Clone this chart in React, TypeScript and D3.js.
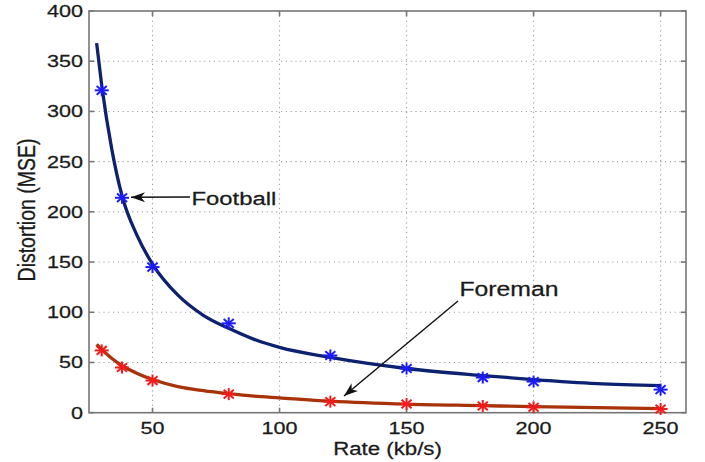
import React, { useEffect, useRef } from "react";
import * as d3 from "d3";

// measured points (markers)
const rates = [30, 38, 50, 80, 120, 150, 180, 200, 250];
const footballPoints = [321, 214, 145, 89, 57, 44, 35, 31, 23];
const foremanPoints = [62, 45, 32, 18.5, 11, 8.7, 6.7, 5.4, 3.7];

// fitted curves
const fitRates = [28, 30, 34, 38, 44, 50, 60, 70, 80, 90, 100, 120, 150, 180, 200, 225, 250];
const footballFit = [368, 326, 262, 216, 176, 148, 117, 97, 84, 73, 65, 55, 44, 37, 33, 29, 27];
const foremanFit = [68, 63, 54, 47, 39, 33, 26, 22, 19, 16.5, 14.8, 11.5, 8.5, 7, 6, 5, 4];

const xTicks = [50, 100, 150, 200, 250];
const yTicks = [0, 50, 100, 150, 200, 250, 300, 350, 400];

const FONT = "'Liberation Sans', Arial, Helvetica, sans-serif";
const SX = 1.27; // the original picture is stretched sideways

export default function App() {
    const ref = useRef<SVGSVGElement>(null);

    useEffect(() => {
        const svg = d3.select(ref.current);
        svg.selectAll("*").remove();

        const left = 89, right = 686, top = 11, bottom = 412.7;

        const x = d3.scaleLinear().domain([25, 260]).range([left, right]);
        const y = d3.scaleLinear().domain([0, 400]).range([bottom, top]);

        const defs = svg.append("defs");
        defs.append("marker")
            .attr("id", "head")
            .attr("viewBox", "-15 -6 16 12")
            .attr("refX", 0)
            .attr("refY", 0)
            .attr("markerWidth", 16)
            .attr("markerHeight", 12)
            .attr("markerUnits", "userSpaceOnUse")
            .attr("orient", "auto")
            .append("path")
            .attr("d", "M0,0 L-14,-5 L-10,0 L-14,5 Z")
            .attr("fill", "#111");

        // grid
        const grid = svg.append("g")
            .attr("stroke", "#a0a0a0")
            .attr("stroke-width", 1.1)
            .attr("stroke-dasharray", "1.2,3.6");
        grid.selectAll("line.v").data(xTicks).enter().append("line")
            .attr("x1", d => x(d)).attr("x2", d => x(d))
            .attr("y1", top).attr("y2", bottom);
        grid.selectAll("line.h").data(yTicks.slice(1, -1)).enter().append("line")
            .attr("x1", left).attr("x2", right)
            .attr("y1", d => y(d)).attr("y2", d => y(d));

        // box + inner ticks
        const axisColor = "#767676";
        svg.append("rect")
            .attr("x", left).attr("y", top)
            .attr("width", right - left).attr("height", bottom - top)
            .attr("fill", "none").attr("stroke", axisColor).attr("stroke-width", 1.6);
        const ticks = svg.append("g").attr("stroke", axisColor).attr("stroke-width", 1.6);
        xTicks.forEach(t => {
            ticks.append("line").attr("x1", x(t)).attr("x2", x(t)).attr("y1", bottom).attr("y2", bottom - 5);
            ticks.append("line").attr("x1", x(t)).attr("x2", x(t)).attr("y1", top).attr("y2", top + 5);
        });
        yTicks.forEach(t => {
            ticks.append("line").attr("x1", left).attr("x2", left + 5).attr("y1", y(t)).attr("y2", y(t));
            ticks.append("line").attr("x1", right).attr("x2", right - 5).attr("y1", y(t)).attr("y2", y(t));
        });

        // tick labels
        const txt = (g: any, s: string, tx: number, ty: number, size: number, anchor: string) =>
            g.append("text")
                .attr("transform", `translate(${tx},${ty}) scale(${SX},1)`)
                .attr("text-anchor", anchor)
                .attr("font-family", FONT)
                .attr("font-size", size)
                .attr("fill", "#1a1a1a")
                .attr("stroke", "#1a1a1a")
                .attr("stroke-width", 0.25)
                .text(s);

        yTicks.forEach(t => txt(svg, String(t), 83, y(t) + 6, 17, "end"));
        xTicks.forEach(t => txt(svg, String(t), x(t), 434, 17, "middle"));
        txt(svg, "Rate (kb/s)", (left + right) / 2, 455, 17.5, "middle");

        svg.append("text")
            .attr("transform", `translate(35,210) rotate(-90) scale(1,${SX})`)
            .attr("text-anchor", "middle")
            .attr("font-family", FONT)
            .attr("font-size", 19.5)
            .attr("fill", "#1a1a1a")
            .attr("stroke", "#1a1a1a")
            .attr("stroke-width", 0.25)
            .text("Distortion (MSE)");

        // curves
        const line = d3.line<number>()
            .x((d, i) => x(fitRates[i]))
            .y(d => y(d))
            .curve(d3.curveMonotoneX);

        svg.append("path").attr("d", line(footballFit))
            .attr("fill", "none").attr("stroke", "#0c2170").attr("stroke-width", 3.3);
        svg.append("path").attr("d", line(foremanFit))
            .attr("fill", "none").attr("stroke", "#a8320a").attr("stroke-width", 3.3);

        // asterisk markers
        const star = (cx: number, cy: number, color: string) => {
            const g = svg.append("g").attr("stroke", color).attr("stroke-width", 2);
            const rx = 7, ry = 6;
            g.append("line").attr("x1", cx - rx).attr("x2", cx + rx).attr("y1", cy).attr("y2", cy);
            g.append("line").attr("x1", cx).attr("x2", cx).attr("y1", cy - ry).attr("y2", cy + ry);
            g.append("line").attr("x1", cx - rx * 0.72).attr("x2", cx + rx * 0.72).attr("y1", cy - ry * 0.72).attr("y2", cy + ry * 0.72);
            g.append("line").attr("x1", cx - rx * 0.72).attr("x2", cx + rx * 0.72).attr("y1", cy + ry * 0.72).attr("y2", cy - ry * 0.72);
        };
        rates.forEach((r, i) => star(x(r), y(footballPoints[i]), "#1c1cf5"));
        rates.forEach((r, i) => star(x(r), y(foremanPoints[i]), "#f01c1c"));

        // annotations
        svg.append("line")
            .attr("x1", 190).attr("y1", 197)
            .attr("x2", x(38) + 9).attr("y2", y(214) - 0.5)
            .attr("stroke", "#111").attr("stroke-width", 1.4)
            .attr("marker-end", "url(#head)");
        txt(svg, "Football", 191.5, 204.5, 18.8, "start");

        svg.append("line")
            .attr("x1", 458).attr("y1", 301)
            .attr("x2", 344).attr("y2", 396)
            .attr("stroke", "#111").attr("stroke-width", 1.4)
            .attr("marker-end", "url(#head)");
        txt(svg, "Foreman", 459.5, 296, 19.5, "start");
    }, []);

    return (
        <div className="canvas">
            <svg ref={ref} width="705" height="462"
                style={{ position: "absolute", left: 0, top: 0, background: "#fff" }} />
        </div>
    );
}
